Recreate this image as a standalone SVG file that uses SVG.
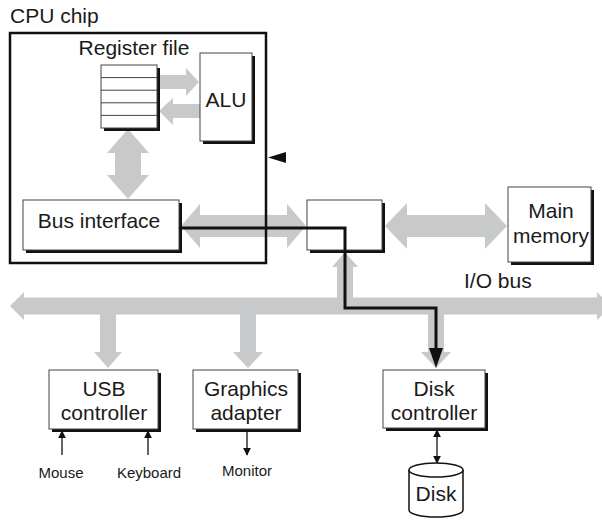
<svg xmlns="http://www.w3.org/2000/svg" width="602" height="521" viewBox="0 0 602 521">
<style>
text{font-family:"Liberation Sans",Arial,sans-serif;fill:#1a1a1a}
.t{font-size:21px}
.s{font-size:15px}
.m{text-anchor:middle}
.g{fill:#c8c9ca;stroke:none}
.box{fill:#fff;stroke:#444;stroke-width:1}
.sh{fill:#111}
.thin{stroke:#111;stroke-width:1.3;fill:none}
</style>
<defs>
<marker id="ah" viewBox="0 0 10 10" refX="9" refY="5" markerWidth="8" markerHeight="8" markerUnits="userSpaceOnUse" orient="auto-start-reverse">
<path d="M0,0 L10,5 L0,10 z" fill="#111"/>
</marker>
</defs>
<rect width="602" height="521" fill="#fff"/>

<g id="connectors">
<polygon class="g" points="160,75 186,75 186,68 199,82 186,96 186,89 160,89"/>
<polygon class="g" points="200,104 173,104 173,98 159,111 173,125 173,118 200,118"/>
<polygon class="g" points="128,129 149,153 141,153 141,175 149,175 128,199 107,175 115,175 115,153 107,153"/>
<polygon class="g" points="181,226 200,204 200,215 287,215 287,204 306,226 287,248 287,237 200,237 200,248"/>
<polygon class="g" points="385,226 407,203 407,215 485,215 485,203 507,226 485,249 485,237 407,237 407,249"/>
<polygon class="g" points="10,306 24,292 24,297.5 597,297.5 597,292 611,306 597,320 597,314.5 24,314.5 24,320"/>
<polygon class="g" points="100,306 116,306 116,352 122,352 108,368 94,352 100,352"/>
<polygon class="g" points="240,306 256,306 256,352 263,352 248,368 233,352 240,352"/>
<polygon class="g" points="428,306 444,306 444,352 451,352 436,368 421,352 428,352"/>
<polygon class="g" points="337,306 353,306 353,267 358,267 345,252 332,267 337,267"/>
<line class="thin" x1="62" y1="455" x2="62" y2="431" marker-end="url(#ah)"/>
<line class="thin" x1="148" y1="455" x2="148" y2="431" marker-end="url(#ah)"/>
<line class="thin" x1="247" y1="430" x2="247" y2="455" marker-end="url(#ah)"/>
<line class="thin" x1="437" y1="430" x2="437" y2="463" marker-start="url(#ah)" marker-end="url(#ah)"/>
</g>

<g id="cpu-chip">
<rect x="10" y="33" width="256" height="230" fill="none" stroke="#111" stroke-width="2.5"/>
<text class="t" x="10" y="23">CPU chip</text>
<polygon points="268,157.5 286,152 286,163" fill="#111"/>
</g>

<g id="register-file">
<text class="t m" x="134" y="55">Register file</text>
<rect class="sh" x="104" y="68" width="56" height="63"/>
<rect class="box" x="101" y="65" width="56" height="63"/>
<path d="M101,77.6 H157 M101,90.2 H157 M101,102.8 H157 M101,115.4 H157" stroke="#444" stroke-width="1"/>
</g>

<g id="alu">
<rect class="sh" x="203" y="56" width="52" height="88"/>
<rect class="box" x="200" y="53" width="52" height="88"/>
<text class="t m" x="226" y="107">ALU</text>
</g>

<g id="bus-interface">
<rect class="sh" x="26" y="203" width="156" height="50"/>
<rect class="box" x="23" y="200" width="156" height="50"/>
<text class="t m" x="99" y="228">Bus interface</text>
</g>

<g id="io-bridge">
<rect class="sh" x="310" y="203" width="75" height="50"/>
<rect class="box" x="307" y="200" width="75" height="50"/>
</g>

<g id="main-memory">
<rect class="sh" x="511" y="190" width="83" height="75"/>
<rect class="box" x="508" y="187" width="83" height="75"/>
<text class="t m" x="551" y="218">Main</text>
<text class="t m" x="551" y="243">memory</text>
</g>

<g id="io-bus">
<text class="t" x="464" y="288">I/O bus</text>
</g>

<g id="usb-controller">
<rect class="sh" x="52" y="373" width="109" height="59"/>
<rect class="box" x="49" y="370" width="109" height="59"/>
<text class="t m" x="104" y="396">USB</text>
<text class="t m" x="104" y="420">controller</text>
</g>

<g id="graphics-adapter">
<rect class="sh" x="196" y="373" width="105" height="59"/>
<rect class="box" x="193" y="370" width="105" height="59"/>
<text class="t m" x="246" y="396">Graphics</text>
<text class="t m" x="246" y="420">adapter</text>
</g>

<g id="disk-controller">
<rect class="sh" x="386" y="373" width="102" height="58"/>
<rect class="box" x="383" y="370" width="102" height="58"/>
<text class="t m" x="434" y="396">Disk</text>
<text class="t m" x="434" y="420">controller</text>
</g>

<g id="labels">
<text class="s m" x="61" y="478">Mouse</text>
<text class="s m" x="149" y="478">Keyboard</text>
<text class="s m" x="247" y="476">Monitor</text>
</g>

<g id="disk">
<path d="M409,470 V510 A27,7 0 0 0 463,510 V470" fill="#fff" stroke="#111" stroke-width="1.5"/>
<ellipse cx="436" cy="470" rx="27" ry="7" fill="#fff" stroke="#111" stroke-width="1.5"/>
<text class="t m" x="436" y="501">Disk</text>
</g>

<g id="data-path">
<path d="M179,228 H345 V308 H436 V350" fill="none" stroke="#111" stroke-width="3"/>
<polygon points="429,348 443,348 436,368" fill="#111"/>
</g>
</svg>
